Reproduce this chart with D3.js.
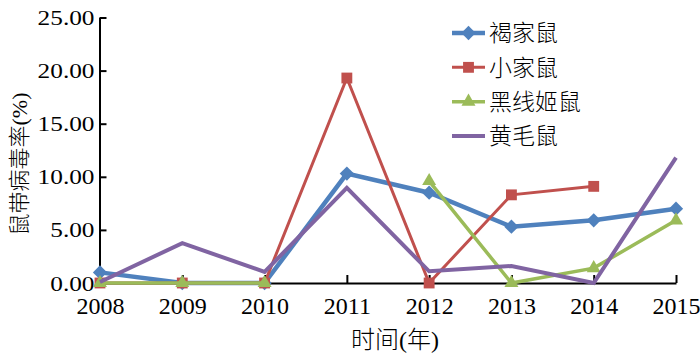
<!DOCTYPE html>
<html><head><meta charset="utf-8">
<script src="https://cdn.jsdelivr.net/npm/d3@7/dist/d3.min.js"></script>
<style>
html,body{margin:0;padding:0;background:#fff;}
svg{display:block;}
text{font-family:"Liberation Serif","Noto Sans CJK SC",serif;fill:#000;}
</style></head>
<body>
<script>
const years = ["2008","2009","2010","2011","2012","2013","2014","2015"];
const seriesNames = ["褐家鼠","小家鼠","黑线姬鼠","黄毛鼠"];
const brownRat = [1.0, 0, 0, 10.3, 8.5, 5.3, 5.9, 7.0];
const houseMouse = [0, 0, 0, 19.3, 0, 8.3, 9.1, null];
const stripedFieldMouse = [0, 0, 0, null, 9.6, 0, 1.4, 5.9];
const yellowRat = [0.1, 3.75, 1.05, 8.95, 1.1, 1.6, 0, 11.8];
const yTicks = [0, 5, 10, 15, 20, 25];
const xTitle = "时间(年)";
const yTitle = "鼠带病毒率(%)";

const series = [
  {name: seriesNames[0], values: brownRat, color: "#4F81BD", width: 4.5, marker: "diamond"},
  {name: seriesNames[1], values: houseMouse, color: "#C0504D", width: 3, marker: "square"},
  {name: seriesNames[2], values: stripedFieldMouse, color: "#9BBB59", width: 3.5, marker: "triangle"},
  {name: seriesNames[3], values: yellowRat, color: "#8064A2", width: 4, marker: null}
];

const W = 700, H = 358;
const svg = d3.select("body").append("svg").attr("width", W).attr("height", H);

const x = d3.scalePoint().domain(years).range([100, 676]);
const y = d3.scaleLinear().domain([0, 25]).range([283, 17.5]);

const symbolOf = {
  diamond: d3.symbol().type(d3.symbolDiamond2).size(130),
  square: d3.symbol().type(d3.symbolSquare2).size(150),
  triangle: d3.symbol().type(d3.symbolTriangle2).size(140)
};

// Axes
const yAxis = d3.axisLeft(y).tickValues(yTicks).tickFormat(d3.format(".2f"))
  .tickSizeInner(-7).tickSizeOuter(0).tickPadding(5);
const gy = svg.append("g").attr("transform", "translate(99.5,0)").call(yAxis);
gy.select(".domain").attr("stroke", "#000").attr("stroke-width", 2);
gy.selectAll(".tick line").attr("stroke", "#000").attr("stroke-width", 2);
gy.selectAll(".tick text").attr("x", 0).attr("font-size", 22)
  .attr("font-family", "Liberation Serif")
  .attr("transform", "translate(-5,0) scale(1.15,1)");

const xAxis = d3.axisBottom(x).tickSizeInner(-8).tickSizeOuter(0).tickPadding(14);
const gx = svg.append("g").attr("transform", "translate(0,283)").call(xAxis);
gx.select(".domain").attr("stroke", "#000").attr("stroke-width", 2);
gx.selectAll(".tick line").attr("stroke", "#000").attr("stroke-width", 2);
gx.selectAll(".tick text").attr("font-size", 24).attr("font-family", "Liberation Serif");

// Lines
const line = d3.line().defined(d => d.v !== null).x(d => x(d.k)).y(d => y(d.v));
series.forEach(s => {
  const pts = years.map((k, i) => ({k, v: s.values[i]}));
  svg.append("path").datum(pts).attr("fill", "none").attr("stroke", s.color)
    .attr("stroke-width", s.width).attr("stroke-linejoin", "miter").attr("d", line);
  if (s.marker) {
    svg.append("g").selectAll("path").data(pts.filter(d => d.v !== null)).join("path")
      .attr("d", symbolOf[s.marker]).attr("fill", s.color)
      .attr("transform", d => `translate(${x(d.k)},${y(d.v)})`);
  }
});

// Titles
svg.append("text").attr("x", 395).attr("y", 348).attr("text-anchor", "middle")
  .attr("font-size", 24).attr("font-weight", 300).text(xTitle);
svg.append("text").attr("transform", "translate(27,164) rotate(-90)")
  .attr("text-anchor", "middle").attr("font-size", 22).attr("font-weight", 300).text(yTitle);

// Legend
const legendY = d3.scalePoint().domain(seriesNames).range([33, 136]);
const lg = svg.append("g");
series.forEach(s => {
  const yy = legendY(s.name);
  lg.append("line").attr("x1", 452).attr("x2", 485).attr("y1", yy).attr("y2", yy)
    .attr("stroke", s.color).attr("stroke-width", s.width);
  if (s.marker) {
    lg.append("path").attr("d", symbolOf[s.marker]).attr("fill", s.color)
      .attr("transform", `translate(468.5,${yy})`);
  }
  lg.append("text").attr("x", 489).attr("y", yy).attr("dy", "0.36em")
    .attr("font-size", 23).attr("font-weight", 300)
    .attr("font-family", "Noto Sans CJK SC").text(s.name);
});
</script>
</body></html>
